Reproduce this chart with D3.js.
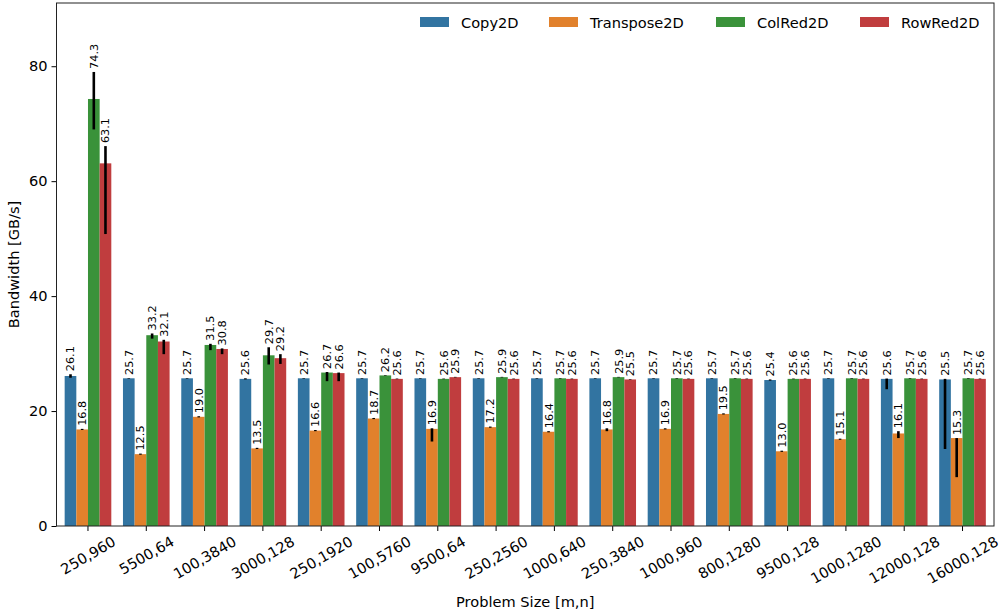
<!DOCTYPE html>
<html>
<head>
<meta charset="utf-8">
<script src="https://cdn.jsdelivr.net/npm/d3@7"></script>
<style>
  html, body { margin: 0; padding: 0; background: #fff; }
  svg { display: block; font-family: "DejaVu Sans", sans-serif; }
</style>
</head>
<body>
<svg id="chart" width="1004" height="615"></svg>
<script>
// Problem sizes (m,n) on the x axis
const categories = ["250,960", "5500,64", "100,3840", "3000,128", "250,1920", "100,5760",
  "9500,64", "250,2560", "1000,640", "250,3840", "1000,960", "800,1280",
  "9500,128", "1000,1280", "12000,128", "16000,128"];

const seriesNames = ["Copy2D", "Transpose2D", "ColRed2D", "RowRed2D"];
const seriesColors = ["#3274a1", "#e1812c", "#3a923a", "#c03d3e"];

// Mean bandwidth [GB/s]
const copy2d = [26.1, 25.7, 25.7, 25.6, 25.7, 25.7, 25.7, 25.7, 25.7, 25.7, 25.7, 25.7, 25.4, 25.7, 25.6, 25.5];
const transpose2d = [16.8, 12.5, 19.0, 13.5, 16.6, 18.7, 16.9, 17.2, 16.4, 16.8, 16.9, 19.5, 13.0, 15.1, 16.1, 15.3];
const colred2d = [74.3, 33.2, 31.5, 29.7, 26.7, 26.2, 25.6, 25.9, 25.7, 25.9, 25.7, 25.7, 25.6, 25.7, 25.7, 25.7];
const rowred2d = [63.1, 32.1, 30.8, 29.2, 26.6, 25.6, 25.9, 25.6, 25.6, 25.5, 25.6, 25.6, 25.6, 25.6, 25.6, 25.6];

// Confidence interval bounds
const copy2dLo = [25.8, 25.65, 25.65, 25.5, 25.65, 25.65, 25.65, 25.65, 25.65, 25.65, 25.65, 25.65, 25.3, 25.65, 23.8, 13.4];
const copy2dHi = [26.4, 25.75, 25.75, 25.7, 25.75, 25.75, 25.75, 25.75, 25.75, 25.75, 25.75, 25.75, 25.5, 25.75, 25.65, 25.6];
const transpose2dLo = [16.7, 12.4, 18.9, 13.4, 16.5, 18.6, 14.7, 17.1, 16.3, 16.5, 16.8, 19.4, 12.9, 15.0, 15.3, 8.5];
const transpose2dHi = [16.9, 12.6, 19.1, 13.6, 16.7, 18.8, 17.0, 17.3, 16.5, 17.0, 17.0, 19.6, 13.1, 15.2, 16.5, 15.3];
const colred2dLo = [69.0, 32.6, 30.6, 28.1, 25.2, 26.15, 25.55, 25.85, 25.65, 25.85, 25.65, 25.65, 25.55, 25.65, 25.65, 25.65];
const colred2dHi = [79.0, 33.5, 31.7, 31.1, 26.8, 26.25, 25.65, 25.95, 25.75, 25.95, 25.75, 25.75, 25.65, 25.75, 25.75, 25.75];
const rowred2dLo = [50.8, 29.9, 29.9, 28.2, 25.2, 25.55, 25.85, 25.55, 25.55, 25.45, 25.55, 25.55, 25.55, 25.55, 25.55, 25.55];
const rowred2dHi = [66.1, 32.4, 30.9, 29.9, 26.7, 25.65, 25.95, 25.65, 25.65, 25.55, 25.65, 25.65, 25.65, 25.65, 25.65, 25.65];

const yTicks = [0, 20, 40, 60, 80];
const yMax = 91;

const means = [copy2d, transpose2d, colred2d, rowred2d];
const lows = [copy2dLo, transpose2dLo, colred2dLo, rowred2dLo];
const highs = [copy2dHi, transpose2dHi, colred2dHi, rowred2dHi];

const records = [];
categories.forEach((c, i) => {
  seriesNames.forEach((s, j) => {
    records.push({ cat: c, series: s, si: j, value: means[j][i], lo: lows[j][i], hi: highs[j][i] });
  });
});

const margin = { left: 56.5, right: 10, top: 3, bottom: 89 };
const W = 1004, H = 615;
const svg = d3.select("#chart");

const x = d3.scaleBand().domain(categories)
  .range([margin.left, W - margin.right])
  .paddingInner(0).paddingOuter(0.04);
const xs = d3.scaleBand().domain(seriesNames)
  .range([x.bandwidth() * 0.1, x.bandwidth() * 0.9]).padding(0);
const y = d3.scaleLinear().domain([0, yMax]).range([H - margin.bottom, margin.top]);
const color = d3.scaleOrdinal().domain(seriesNames).range(seriesColors);

const fs = 14.6;

// bars
svg.append("g").selectAll("rect").data(records).join("rect")
  .attr("x", d => x(d.cat) + xs(d.series))
  .attr("width", xs.bandwidth())
  .attr("y", d => y(d.value))
  .attr("height", d => y(0) - y(d.value))
  .attr("fill", d => color(d.series));

// confidence intervals
svg.append("g").selectAll("line").data(records).join("line")
  .attr("x1", d => x(d.cat) + xs(d.series) + xs.bandwidth() / 2)
  .attr("x2", d => x(d.cat) + xs(d.series) + xs.bandwidth() / 2)
  .attr("y1", d => y(d.lo))
  .attr("y2", d => y(d.hi))
  .attr("stroke", "#000").attr("stroke-width", 2.6);

// value labels, rotated, above the interval
svg.append("g").selectAll("text").data(records).join("text")
  .attr("transform", d => `translate(${x(d.cat) + xs(d.series) + xs.bandwidth() / 2},${y(Math.max(d.hi, d.value)) - 3}) rotate(-90)`)
  .attr("dy", "0.35em")
  .attr("font-size", 11.3)
  .attr("fill", "#000")
  .text(d => d.value.toFixed(1));

// y axis
const yAxis = svg.append("g").attr("transform", `translate(${margin.left},0)`)
  .call(d3.axisLeft(y).tickValues(yTicks).tickSize(5).tickPadding(4).tickFormat(d3.format("d")));
yAxis.select(".domain").remove();
yAxis.selectAll("text").attr("font-size", fs).attr("font-family", "DejaVu Sans").attr("fill", "#000");
yAxis.selectAll("line").attr("stroke", "#000");

// x axis
const xAxis = svg.append("g").attr("transform", `translate(0,${H - margin.bottom})`)
  .call(d3.axisBottom(x).tickSize(5).tickPadding(0));
xAxis.select(".domain").remove();
xAxis.selectAll("line").attr("stroke", "#000");
xAxis.selectAll("text")
  .attr("font-size", fs).attr("font-family", "DejaVu Sans").attr("fill", "#000")
  .attr("text-anchor", "middle").attr("dy", null).attr("y", null)
  .attr("dominant-baseline", "central")
  .each(function () {
    const w = this.getComputedTextLength();
    const h = fs * 1.1;
    const a = Math.PI / 6;
    const bh = w * Math.sin(a) + h * Math.cos(a);
    d3.select(this).attr("transform", `translate(0,${7 + bh / 2}) rotate(-30)`);
  });

// frame
svg.append("rect")
  .attr("x", margin.left).attr("y", margin.top)
  .attr("width", W - margin.right - margin.left)
  .attr("height", H - margin.bottom - margin.top)
  .attr("fill", "none").attr("stroke", "#222").attr("stroke-width", 1);

// axis titles
svg.append("text")
  .attr("x", (margin.left + W - margin.right) / 2).attr("y", 601)
  .attr("text-anchor", "middle").attr("dominant-baseline", "central")
  .attr("font-size", fs).text("Problem Size [m,n]");
svg.append("text")
  .attr("transform", `translate(13,${(margin.top + H - margin.bottom) / 2}) rotate(-90)`)
  .attr("text-anchor", "middle").attr("dominant-baseline", "central")
  .attr("font-size", fs).text("Bandwidth [GB/s]");

// legend
const legendX = [420, 549, 716, 860];
const legend = svg.append("g").selectAll("g").data(seriesNames).join("g")
  .attr("transform", (d, i) => `translate(${legendX[i]},22)`);
legend.append("rect").attr("x", 0).attr("y", -5).attr("width", 29).attr("height", 10)
  .attr("fill", d => color(d));
legend.append("text").attr("x", 41).attr("y", 0).attr("dominant-baseline", "central")
  .attr("font-size", fs).text(d => d);
</script>
</body>
</html>
